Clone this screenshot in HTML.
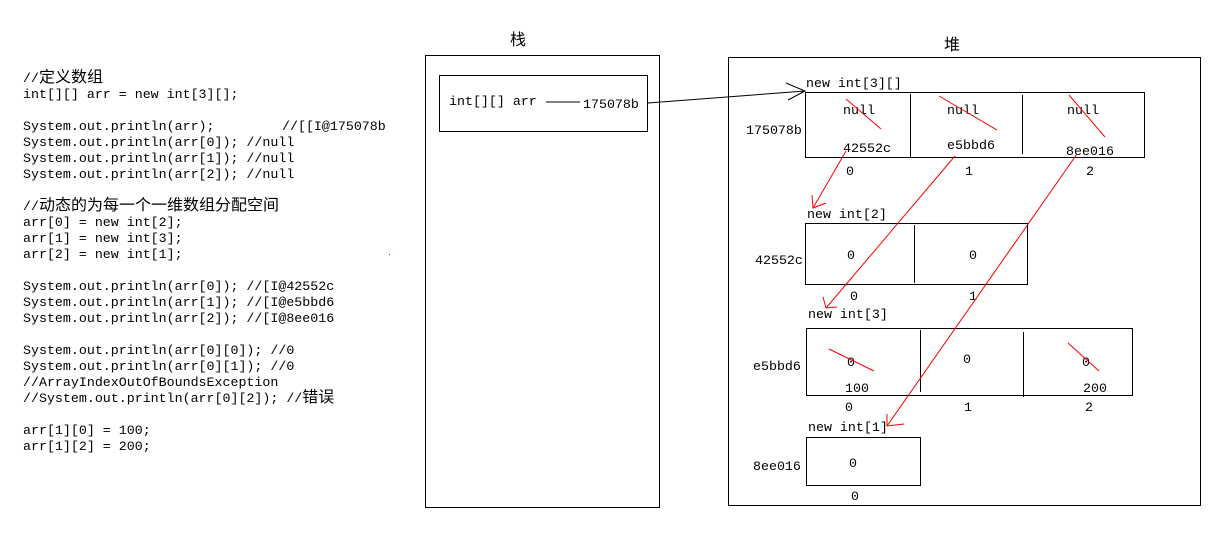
<!DOCTYPE html>
<html><head><meta charset="utf-8">
<style>
html,body{margin:0;padding:0;background:#fff;}
svg{display:block;}
text{font-family:"Liberation Mono","Noto Sans CJK SC",monospace;font-size:13.3px;fill:#000;}
.c{text-anchor:middle;}
.k{font-family:"Noto Sans CJK SC","WenQuanYi Zen Hei",sans-serif;font-size:15.5px;}
</style></head><body>
<svg width="1213" height="556" viewBox="0 0 1213 556" xmlns="http://www.w3.org/2000/svg">
<g>
<text x="23" y="82">//<tspan class="k" textLength="64" lengthAdjust="spacingAndGlyphs">定义数组</tspan></text>
<text x="23" y="98">int[][] arr = new int[3][];</text>
<text x="23" y="130">System.out.println(arr);</text>
<text x="282" y="130">//[[I@175078b</text>
<text x="23" y="146">System.out.println(arr[0]); //null</text>
<text x="23" y="162">System.out.println(arr[1]); //null</text>
<text x="23" y="178">System.out.println(arr[2]); //null</text>
<text x="23" y="210">//<tspan class="k" textLength="240" lengthAdjust="spacingAndGlyphs">动态的为每一个一维数组分配空间</tspan></text>
<text x="23" y="226">arr[0] = new int[2];</text>
<text x="23" y="242">arr[1] = new int[3];</text>
<text x="23" y="258">arr[2] = new int[1];</text>
<text x="23" y="290">System.out.println(arr[0]); //[I@42552c</text>
<text x="23" y="306">System.out.println(arr[1]); //[I@e5bbd6</text>
<text x="23" y="322">System.out.println(arr[2]); //[I@8ee016</text>
<text x="23" y="354">System.out.println(arr[0][0]); //0</text>
<text x="23" y="370">System.out.println(arr[0][1]); //0</text>
<text x="23" y="386">//ArrayIndexOutOfBoundsException</text>
<text x="23" y="402">//System.out.println(arr[0][2]); //<tspan class="k" textLength="32" lengthAdjust="spacingAndGlyphs">错误</tspan></text>
<text x="23" y="434">arr[1][0] = 100;</text>
<text x="23" y="450">arr[1][2] = 200;</text>
</g>
<rect x="389" y="254" width="1" height="1" fill="red"/>
<!-- stack -->
<text x="518" y="45" class="c k" style="font-size:16px">栈</text>
<rect x="425.5" y="55.5" width="234" height="452" fill="none" stroke="#000"/>
<rect x="439.5" y="75.5" width="208" height="56" fill="none" stroke="#000"/>
<text x="449" y="105">int[][] arr</text>
<line x1="546" y1="102" x2="580" y2="102" stroke="#000"/>
<text x="583" y="108">175078b</text>
<polyline points="648,103 805,91" fill="none" stroke="#000"/>
<polyline points="786,83 805,91 788,100" fill="none" stroke="#000"/>
<!-- heap -->
<text x="952" y="50" class="c k" style="font-size:16px">堆</text>
<rect x="728.5" y="57.5" width="472" height="448" fill="none" stroke="#000"/>
<text x="806" y="87">new int[3][]</text>
<rect x="805.5" y="92.5" width="339" height="65" fill="none" stroke="#000"/>
<line x1="910.5" y1="94" x2="910.5" y2="158" stroke="#000"/>
<line x1="1022.5" y1="95" x2="1022.5" y2="154" stroke="#000"/>
<text x="746" y="134">175078b</text>
<text x="859" y="114" class="c">null</text>
<text x="963" y="114" class="c">null</text>
<text x="1083" y="114" class="c">null</text>
<text x="867" y="152" class="c">42552c</text>
<text x="971" y="149" class="c">e5bbd6</text>
<text x="1090" y="155" class="c">8ee016</text>
<text x="850" y="175" class="c">0</text>
<text x="969" y="175" class="c">1</text>
<text x="1090" y="175" class="c">2</text>

<text x="807" y="218">new int[2]</text>
<rect x="805.5" y="223.5" width="222" height="61" fill="none" stroke="#000"/>
<line x1="914.5" y1="225" x2="914.5" y2="283" stroke="#000"/>
<text x="755" y="264">42552c</text>
<text x="851" y="259" class="c">0</text>
<text x="973" y="259" class="c">0</text>
<text x="854" y="300" class="c">0</text>
<text x="973" y="300" class="c">1</text>

<text x="808" y="318">new int[3]</text>
<rect x="806.5" y="328.5" width="326" height="67" fill="none" stroke="#000"/>
<line x1="920.5" y1="330" x2="920.5" y2="392" stroke="#000"/>
<line x1="1023.5" y1="332" x2="1023.5" y2="397" stroke="#000"/>
<text x="753" y="370">e5bbd6</text>
<text x="851" y="366" class="c">0</text>
<text x="967" y="363" class="c">0</text>
<text x="1086" y="366" class="c">0</text>
<text x="857" y="392" class="c">100</text>
<text x="1095" y="392" class="c">200</text>
<text x="849" y="411" class="c">0</text>
<text x="968" y="411" class="c">1</text>
<text x="1089" y="411" class="c">2</text>

<text x="808" y="431">new int[1]</text>
<rect x="806.5" y="437.5" width="114" height="48" fill="none" stroke="#000"/>
<text x="753" y="470">8ee016</text>
<text x="853" y="467" class="c">0</text>
<text x="855" y="500" class="c">0</text>

<g stroke="red" fill="none" stroke-width="1">
<line x1="846" y1="99" x2="881" y2="129"/>
<line x1="939" y1="96" x2="997" y2="130"/>
<line x1="1069" y1="95" x2="1105" y2="137"/>
<line x1="829" y1="349" x2="874" y2="371"/>
<line x1="1068" y1="343" x2="1099" y2="371"/>
<line x1="846" y1="151" x2="813" y2="208"/>
<polyline points="812,195 813,208 826,203"/>
<line x1="955" y1="156" x2="826" y2="308"/>
<polyline points="823,297 826,308 837,307"/>
<line x1="1077" y1="154" x2="887" y2="426"/>
<polyline points="887,414 887,426 904,424"/>
</g>
</svg>
</body></html>
